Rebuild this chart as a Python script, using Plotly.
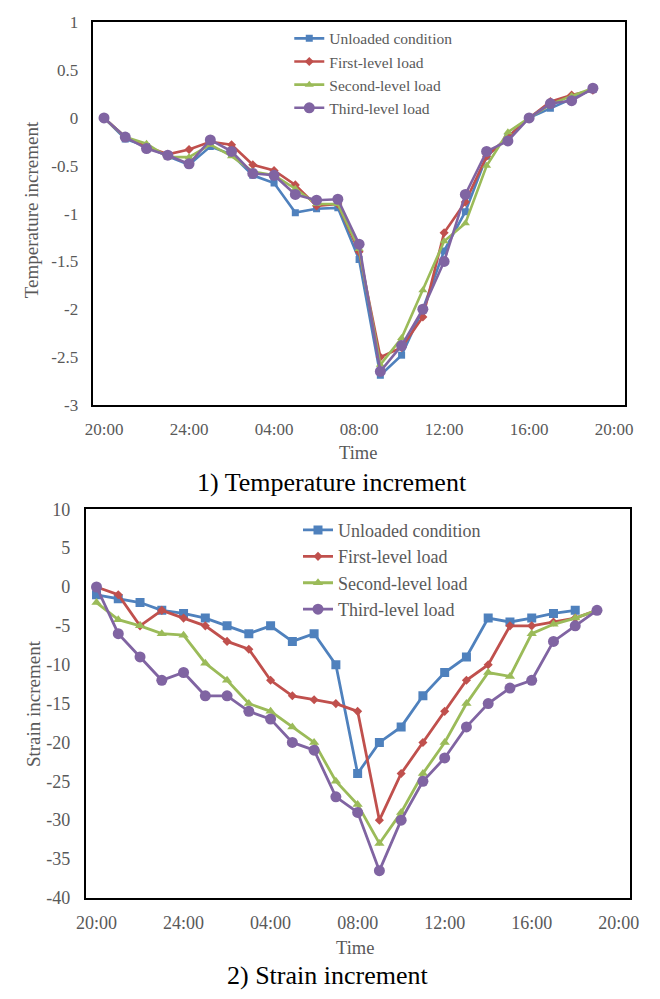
import plotly.graph_objects as go

W, H = 660, 999

hours = list(range(24))
tick_vals = [0, 4, 8, 12, 16, 20, 24]
tick_text = ["20:00", "24:00", "04:00", "08:00", "12:00", "16:00", "20:00"]
series_names = ["Unloaded condition", "First-level load", "Second-level load", "Third-level load"]

temp_ticks = [1, 0.5, 0, -0.5, -1, -1.5, -2, -2.5, -3]
temp_tick_text = ["1", "0.5", "0", "-0.5", "-1", "-1.5", "-2", "-2.5", "-3"]
strain_ticks = [10, 5, 0, -5, -10, -15, -20, -25, -30, -35, -40]
strain_tick_text = ["10", "5", "0", "-5", "-10", "-15", "-20", "-25", "-30", "-35", "-40"]

# Temperature increment
temp_unloaded = [0, -0.22, -0.3, -0.4, -0.49, -0.3, -0.38, -0.6, -0.68, -0.99, -0.95, -0.94,
                 -1.48, -2.69, -2.48, -2.0, -1.39, -0.98, -0.4, -0.2, 0, 0.1, 0.2, 0.3]
temp_first = [0, -0.2, -0.3, -0.38, -0.33, -0.25, -0.28, -0.49, -0.55, -0.7, -0.92, -0.9,
              -1.4, -2.5, -2.4, -2.08, -1.2, -0.88, -0.4, -0.2, 0, 0.17, 0.24, 0.29]
temp_second = [0, -0.2, -0.27, -0.41, -0.41, -0.28, -0.4, -0.56, -0.6, -0.74, -0.9, -0.9,
               -1.37, -2.58, -2.3, -1.8, -1.29, -1.1, -0.5, -0.15, 0, 0.14, 0.23, 0.31]
temp_third = [0, -0.2, -0.32, -0.39, -0.48, -0.23, -0.35, -0.58, -0.6, -0.8, -0.86, -0.85,
              -1.32, -2.65, -2.38, -2.0, -1.5, -0.8, -0.35, -0.24, 0, 0.15, 0.18, 0.31]

# Strain increment
strain_unloaded = [-1, -1.5, -2, -3, -3.4, -4, -5, -6, -5, -7, -6, -10,
                   -24, -20, -18, -14, -11, -9, -4, -4.5, -4, -3.4, -3]
strain_first = [0, -1, -5, -3, -4, -5, -7, -8, -12, -14, -14.5, -15,
                -16, -30, -24, -20, -16, -12, -10, -5, -5, -4.5, -4, -3]
strain_second = [-2, -4.2, -5, -6, -6.2, -9.8, -12, -15, -16, -18, -20, -25,
                 -28, -33, -29, -24, -20, -15, -11, -11.5, -6, -4.8, -4, -3]
strain_third = [0, -6, -9, -12, -11, -14, -14, -16, -17, -20, -21, -27,
                -29, -36.5, -30, -25, -22, -18, -15, -13, -12, -7, -5, -3]

colors = ["#4F81BD", "#C0504D", "#9BBB59", "#8064A2"]
symbols = ["square", "diamond", "triangle-up", "circle"]
top_sizes = [7, 7, 8, 11]
bot_sizes = [9, 7, 9, 11]

FONT = "Liberation Serif, Tinos, Times New Roman, serif"
GREY = "#595959"


def px(x):
    return x / W


def py(y):
    return 1 - y / H


fig = go.Figure()

top_data = [temp_unloaded, temp_first, temp_second, temp_third]
bot_data = [strain_unloaded, strain_first, strain_second, strain_third]

for i, vals in enumerate(top_data):
    fig.add_trace(go.Scatter(
        x=hours[:len(vals)], y=vals, name=series_names[i], mode="lines+markers",
        line=dict(color=colors[i], width=2.6),
        marker=dict(symbol=symbols[i], size=top_sizes[i], color=colors[i]),
        xaxis="x", yaxis="y", legend="legend"))

for i, vals in enumerate(bot_data):
    fig.add_trace(go.Scatter(
        x=hours[:len(vals)], y=vals, name=series_names[i], mode="lines+markers",
        line=dict(color=colors[i], width=2.8),
        marker=dict(symbol=symbols[i], size=bot_sizes[i], color=colors[i]),
        xaxis="x2", yaxis="y2", legend="legend2"))

axis_common = dict(showgrid=False, zeroline=False, showline=True, linecolor="black",
                   linewidth=1.5, mirror=True, ticks="")

fig.update_layout(
    width=W, height=H, margin=dict(l=0, r=0, t=0, b=0),
    paper_bgcolor="white", plot_bgcolor="white",
    font=dict(family=FONT, color=GREY),
    xaxis=dict(domain=[px(86), px(634)], range=[-0.5, 24.5], anchor="y",
               tickvals=tick_vals, ticktext=tick_text, ticklabelstandoff=8,
               tickfont=dict(family=FONT, size=17, color=GREY), **axis_common),
    yaxis=dict(domain=[py(403), py(12.5)], range=[-3, 1], anchor="x",
               tickvals=temp_ticks, ticktext=temp_tick_text, ticklabelstandoff=10,
               tickfont=dict(family=FONT, size=17, color=GREY), **axis_common),
    xaxis2=dict(domain=[px(78), px(639)], range=[-0.5, 24.5], anchor="y2",
                tickvals=tick_vals, ticktext=tick_text, ticklabelstandoff=8,
                tickfont=dict(family=FONT, size=18, color=GREY), **axis_common),
    yaxis2=dict(domain=[py(906), py(509.5)], range=[-40, 10], anchor="x2",
                tickvals=strain_ticks, ticktext=strain_tick_text, ticklabelstandoff=10,
                tickfont=dict(family=FONT, size=18, color=GREY), **axis_common),
    legend=dict(x=px(288), y=py(12), xanchor="left", yanchor="top",
                bgcolor="rgba(0,0,0,0)", font=dict(family=FONT, size=15.5, color=GREY),
                tracegroupgap=0, itemwidth=30),
    legend2=dict(x=px(297), y=py(512), xanchor="left", yanchor="top",
                 bgcolor="rgba(0,0,0,0)", font=dict(family=FONT, size=18, color=GREY),
                 tracegroupgap=0, itemwidth=30),
    showlegend=True,
)

annotations = [
    dict(text="Time", x=px(359), y=py(452), font=dict(size=18.5, color=GREY)),
    dict(text="Temperature increment", x=px(23), y=py(204), textangle=-90,
         font=dict(size=19, color=GREY)),
    dict(text="1) Temperature increment", x=px(332), y=py(482),
         font=dict(size=26, color="black")),
    dict(text="Time", x=px(356), y=py(957), font=dict(size=18.5, color=GREY)),
    dict(text="Strain increment", x=px(25), y=py(708), textangle=-90,
         font=dict(size=19, color=GREY)),
    dict(text="2) Strain increment", x=px(327), y=py(985),
         font=dict(size=26, color="black")),
]
for a in annotations:
    a.update(xref="paper", yref="paper", showarrow=False, xanchor="center", yanchor="middle")
    a["font"]["family"] = FONT
fig.update_layout(annotations=annotations)

fig.write_html("out.html")
